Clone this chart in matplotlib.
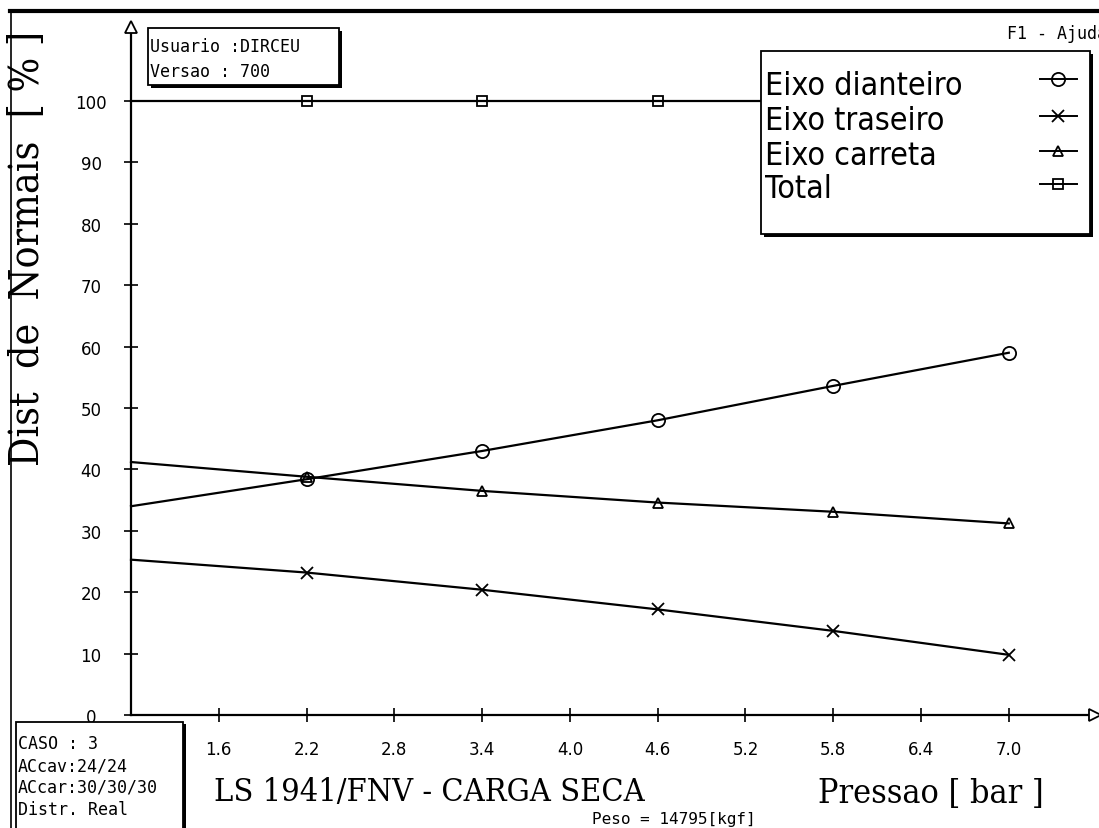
import matplotlib
matplotlib.use("Agg")
import matplotlib.pyplot as plt
from matplotlib import font_manager as fm
from matplotlib.font_manager import FontProperties
from matplotlib.lines import Line2D
from matplotlib.patches import Rectangle

# ---------------- data ----------------
pressao = [1.0, 2.2, 3.4, 4.6, 5.8, 7.0]
eixo_dianteiro = [34.0, 38.4, 43.0, 48.0, 53.6, 59.0]
eixo_traseiro = [25.3, 23.2, 20.4, 17.2, 13.7, 9.8]
eixo_carreta = [41.2, 38.8, 36.5, 34.6, 33.1, 31.2]
total = [100, 100, 100, 100, 100, 100]
series_labels = ["Eixo dianteiro", "Eixo traseiro", "Eixo carreta", "Total"]
x_ticks = [1.6, 2.2, 2.8, 3.4, 4.0, 4.6, 5.2, 5.8, 6.4, 7.0]
y_ticks = [0, 10, 20, 30, 40, 50, 60, 70, 80, 90, 100]
x_label = "Pressao [ bar ]"
y_label = "Dist  de  Normais  [ % ]"
title = "LS 1941/FNV - CARGA SECA"
info_top = ["Usuario :DIRCEU", "Versao : 700"]
info_case = ["CASO : 3", "ACcav:24/24", "ACcar:30/30/30", "Distr. Real"]
peso_text = "Peso = 14795[kgf]"
help_text = "F1 - Ajuda"

# ---------------- fonts ----------------
names = {f.name for f in fm.fontManager.ttflist}


def find_condensed(serif):
    for f in fm.fontManager.ttflist:
        n = f.name
        st = str(f.stretch).lower()
        cond = ("Narrow" in n or "Condensed" in n or "condensed" in st)
        if not cond or f.style != "normal":
            continue
        if "Mono" in n:
            continue
        if ("Serif" in n) != serif:
            continue
        w = f.weight if isinstance(f.weight, int) else 400
        if w != 400:
            continue
        return f
    return None


cond_sans = find_condensed(False)
cond_serif = find_condensed(True)
if cond_sans is not None:
    legend_fp = FontProperties(fname=cond_sans.fname)
else:
    legend_fp = FontProperties(family="DejaVu Sans")
if cond_serif is not None:
    serif_fp = FontProperties(fname=cond_serif.fname)
else:
    serif_fp = FontProperties(family="Liberation Serif" if "Liberation Serif" in names else "DejaVu Serif")
mono = "DejaVu Sans Mono"

# ---------------- figure ----------------
W, H = 1099, 829
fig = plt.figure(figsize=(W / 100, H / 100), dpi=100)
fig.patch.set_facecolor("white")


def fx(px):
    return px / W


def fy(py):
    return 1 - py / H


def pt(px):
    return px * 72 / 100


X0, X1 = 131, 1095
Y0, Y1 = 716, 28
XMIN = 1.0
PXU = 146.3
XMAX = XMIN + (X1 - X0) / PXU
YPU = 6.14
YMAX = (Y0 - Y1) / YPU

ax = fig.add_axes([fx(X0), fy(Y0), (X1 - X0) / W, (Y0 - Y1) / H])
ax.set_xlim(XMIN, XMAX)
ax.set_ylim(0, YMAX)
for s in ("top", "right"):
    ax.spines[s].set_visible(False)
for s in ("left", "bottom"):
    ax.spines[s].set_linewidth(1.6)
    ax.spines[s].set_color("black")

markers = [("o", 9.5), ("x", 9.0), ("^", 7.5), ("s", 7.5)]
for vals, (m, ms) in zip([eixo_dianteiro, eixo_traseiro, eixo_carreta, total], markers):
    ax.plot(pressao, vals, color="black", lw=1.6, marker=m, ms=ms,
            mfc="none", mec="black", mew=1.3, markevery=slice(1, None),
            clip_on=False, zorder=3)

# axis arrow heads
ax.plot([0], [1], marker="^", ms=8, mfc="white", mec="black", mew=1.3,
        transform=ax.transAxes, clip_on=False, zorder=5)
ax.plot([1], [0], marker=">", ms=8, mfc="white", mec="black", mew=1.3,
        transform=ax.transAxes, clip_on=False, zorder=5)

ax.set_xticks(x_ticks)
ax.set_xticklabels([f"{v:.1f}" for v in x_ticks])
ax.set_yticks(y_ticks)
ax.set_yticklabels([str(v) for v in y_ticks])
ax.tick_params(axis="both", direction="inout", length=10, width=1.2,
               labelsize=12, colors="black")
ax.tick_params(axis="x", pad=13)
ax.tick_params(axis="y", pad=pt(33))
for lab in ax.get_yticklabels():
    lab.set_horizontalalignment("center")

# ---------------- window frame ----------------
fig.add_artist(Line2D([fx(10), 1], [fy(12), fy(12)], color="black", lw=3.0,
                      transform=fig.transFigure))
fig.add_artist(Line2D([fx(10.5), fx(10.5)], [fy(12), 0], color="black", lw=1.2,
                      transform=fig.transFigure))


def box(x0, y0, x1, y1, shadow=3):
    fig.add_artist(Rectangle((fx(x0 + shadow), fy(y1 + shadow)),
                             (x1 - x0) / W, (y1 - y0) / H,
                             transform=fig.transFigure, facecolor="black",
                             edgecolor="black", lw=0, zorder=4))
    fig.add_artist(Rectangle((fx(x0), fy(y1)), (x1 - x0) / W, (y1 - y0) / H,
                             transform=fig.transFigure, facecolor="white",
                             edgecolor="black", lw=1.3, zorder=4.1))


# info box top-left
box(147.5, 29, 339, 86)
for txt, yb in zip(info_top, [52, 77]):
    fig.text(fx(150), fy(yb), txt, family=mono, fontsize=12, va="baseline",
             ha="left", zorder=5)

# help text (cut at the right edge, as in the reference)
fig.text(fx(1007), fy(39), help_text, family=mono, fontsize=12, va="baseline",
         ha="left", zorder=5)

# case box bottom-left
box(15.5, 722.5, 183, 840)
for txt, yb in zip(info_case, [749, 772, 793, 815]):
    fig.text(fx(17.5), fy(yb), txt, family=mono, fontsize=12, va="baseline",
             ha="left", zorder=5)

fig.text(fx(592), fy(824), peso_text, family=mono, fontsize=11.5, va="baseline",
         ha="left", zorder=5)

# legend box
box(761, 52, 1090, 235)
leg_texts = []
for lab, yb in zip(series_labels, [95, 130, 165, 198]):
    leg_texts.append(fig.text(fx(765), fy(yb), lab, fontproperties=legend_fp,
                              fontsize=22, va="baseline", ha="left", zorder=5))
for (m, ms), ym in zip(markers, [80, 117, 152, 185]):
    fig.add_artist(Line2D([fx(1040), fx(1077)], [fy(ym), fy(ym)], color="black",
                          lw=1.4, transform=fig.transFigure, zorder=5))
    fig.add_artist(Line2D([fx(1058)], [fy(ym)], marker=m, ms=ms, mfc="none",
                          mec="black", mew=1.3, transform=fig.transFigure,
                          zorder=5.1))

# titles
t_title = fig.text(fx(214), fy(801), title, fontproperties=serif_fp,
                   fontsize=24, va="baseline", ha="left")
t_xlab = fig.text(fx(818), fy(803), x_label, fontproperties=serif_fp,
                  fontsize=24, va="baseline", ha="left")
t_ylab = fig.text(fx(28), fy(248), y_label, fontproperties=serif_fp,
                  fontsize=24, va="center", ha="center", rotation=90)

# fit text sizes to reference extents
fig.canvas.draw()
r = fig.canvas.get_renderer()


def fit_w(t, w):
    bb = t.get_window_extent(r)
    t.set_fontsize(t.get_fontsize() * w / bb.width)


def fit_h(t, h):
    bb = t.get_window_extent(r)
    t.set_fontsize(t.get_fontsize() * h / bb.height)


fit_w(leg_texts[0], 197)
for t in leg_texts[1:]:
    t.set_fontsize(leg_texts[0].get_fontsize())
fit_w(t_title, 430)
fit_w(t_xlab, 226)
fit_h(t_ylab, 435)

fig.savefig("out.png", dpi=100, facecolor="white")
